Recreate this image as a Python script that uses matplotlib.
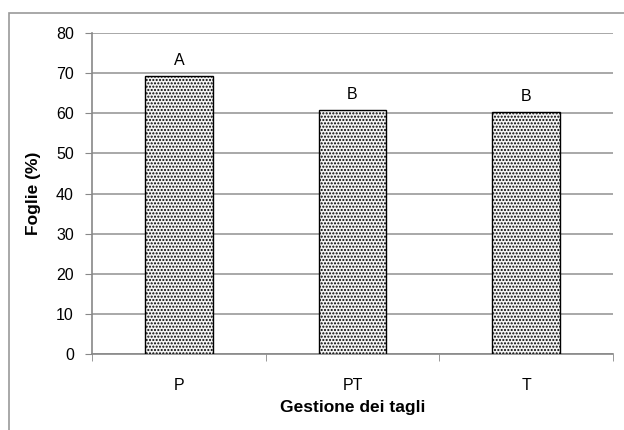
import matplotlib
matplotlib.use("Agg")
import matplotlib.pyplot as plt
from matplotlib.patches import Rectangle

plt.rcParams['font.family'] = ['Liberation Sans', 'DejaVu Sans']
plt.rcParams['hatch.color'] = '#5a5a5a'
plt.rcParams['hatch.linewidth'] = 1.0

categories = ['P', 'PT', 'T']
values = [69.4, 60.8, 60.4]
letters = ['A', 'B', 'B']
yticks = [0, 10, 20, 30, 40, 50, 60, 70, 80]

fig = plt.figure(figsize=(6.24, 4.30), dpi=100)
ax = fig.add_axes([92/624, 1-354/430, (613-92)/624, (354-33)/430])

# outer chart frame
fig.patches.append(Rectangle((9/624, -0.05), 1.0, 1-13/430+0.05,
                             transform=fig.transFigure, fill=False,
                             edgecolor='#999999', linewidth=1.2, clip_on=False))

x = list(range(len(categories)))
bars = ax.bar(x, values, width=0.39, facecolor='#f4f4f4', edgecolor='black',
              linewidth=1.0, hatch='.....', zorder=3)
for xi, v, lab in zip(x, values, letters):
    ax.text(xi, v + 2.7, lab, ha='center', va='baseline', fontsize=11.5)

ax.set_xlim(-0.5, len(categories) - 0.5)
ax.set_ylim(0, 80)
ax.set_yticks(yticks)
ax.yaxis.grid(True, color='#999999', linewidth=1.2, zorder=0)
ax.set_axisbelow(True)

ax.set_xticks(x)
ax.set_xticklabels(categories, fontsize=11.5)
ax.set_xticks([-0.5, 0.5, 1.5, 2.5], minor=True)
ax.tick_params(axis='x', which='major', length=0, pad=17)
ax.tick_params(axis='x', which='minor', length=5, color='#888888', direction='out')
ax.tick_params(axis='y', length=5, color='#888888', direction='out', labelsize=11.5, pad=8)

for s in ['top', 'right']:
    ax.spines[s].set_visible(False)
for s in ['left', 'bottom']:
    ax.spines[s].set_color('#888888')
    ax.spines[s].set_linewidth(1.2)

ax.set_ylabel('Foglie (%)', fontsize=12.5, fontweight='bold', labelpad=11)
ax.set_xlabel('Gestione dei tagli', fontsize=12.5, fontweight='bold', labelpad=5)

fig.savefig('out.png', dpi=100)
